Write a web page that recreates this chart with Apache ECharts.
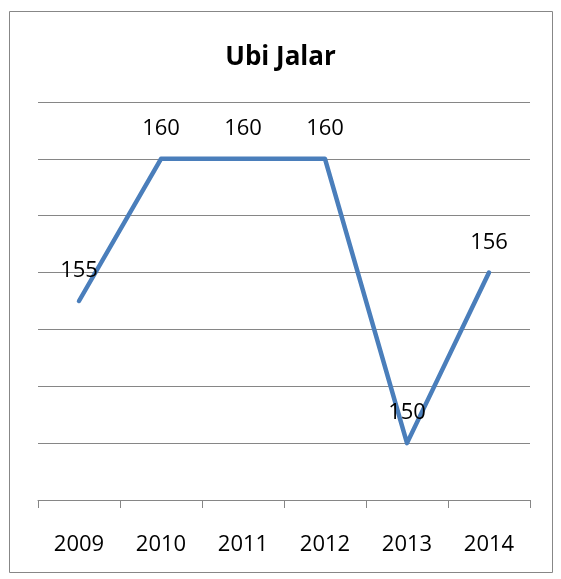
<!DOCTYPE html>
<html>
<head>
<meta charset="utf-8">
<script src="https://cdn.jsdelivr.net/npm/echarts@6/dist/echarts.min.js"></script>
<style>
  html, body { margin: 0; padding: 0; background: #fff; }
  #chart { width: 561px; height: 579px; }
</style>
</head>
<body>
<div id="chart"></div>
<script>
const years = ['2009', '2010', '2011', '2012', '2013', '2014'];
const values = [155, 160, 160, 160, 150, 156];
const labels = ['155', '160', '160', '160', '150', '156'];

const chart = echarts.init(document.getElementById('chart'));
chart.setOption({
  animation: false,
  textStyle: { fontFamily: '"Open Sans", sans-serif' },
  title: {
    text: 'Ubi Jalar',
    left: 'center',
    top: 40,
    textStyle: { fontSize: 26, fontWeight: 'bold', color: '#000', fontFamily: '"Open Sans", sans-serif' }
  },
  graphic: [{
    type: 'rect',
    shape: { x: 9.5, y: 11.5, width: 543, height: 561 },
    style: { fill: 'none', stroke: '#878787', lineWidth: 1 },
    silent: true
  }],
  grid: { left: 38, right: 31, top: 102, bottom: 79 },
  xAxis: {
    type: 'category',
    data: years,
    boundaryGap: true,
    axisLine: { lineStyle: { color: '#868686', width: 1 } },
    axisTick: { show: true, length: 8, inside: false, lineStyle: { color: '#868686' } },
    axisLabel: { color: '#000', fontSize: 22, margin: 34, fontFamily: '"Open Sans", sans-serif' },
    splitLine: { show: false }
  },
  yAxis: {
    type: 'value',
    min: 148,
    max: 162,
    interval: 2,
    axisLine: { show: false },
    axisTick: { show: false },
    axisLabel: { show: false },
    splitLine: { lineStyle: { color: '#868686', width: 1 } }
  },
  series: [{
    type: 'line',
    data: values,
    symbol: 'circle',
    symbolSize: 2,
    showSymbol: true,
    itemStyle: { color: '#4a7ebb' },
    lineStyle: { color: '#4a7ebb', width: 4.5, cap: 'round', join: 'round' },
    label: {
      show: true,
      position: 'top',
      distance: 18,
      color: '#000',
      fontSize: 22,
      fontFamily: '"Open Sans", sans-serif',
      formatter: p => labels[p.dataIndex]
    }
  }]
});
</script>
</body>
</html>
